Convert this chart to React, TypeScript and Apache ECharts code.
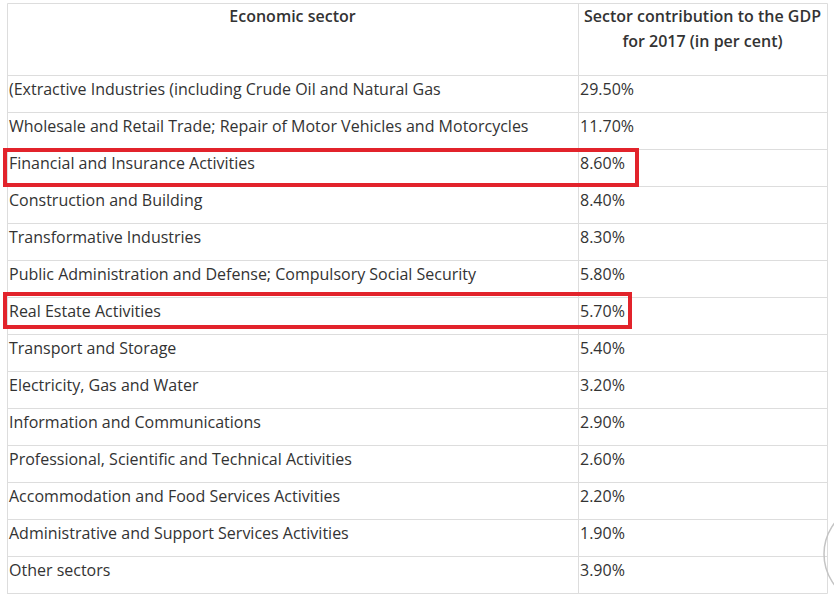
import React, { useEffect, useRef } from "react";
import * as echarts from "echarts";

const headerSector = "Economic sector";
const headerValue = ["Sector contribution to the GDP", "for 2017 (in per cent)"];

const sectors = [
  "(Extractive Industries (including Crude Oil and Natural Gas",
  "Wholesale and Retail Trade; Repair of Motor Vehicles and Motorcycles",
  "Financial and Insurance Activities",
  "Construction and Building",
  "Transformative Industries",
  "Public Administration and Defense; Compulsory Social Security",
  "Real Estate Activities",
  "Transport and Storage",
  "Electricity, Gas and Water",
  "Information and Communications",
  "Professional, Scientific and Technical Activities",
  "Accommodation and Food Services Activities",
  "Administrative and Support Services Activities",
  "Other sectors",
];

const shares = [29.5, 11.7, 8.6, 8.4, 8.3, 5.8, 5.7, 5.4, 3.2, 2.9, 2.6, 2.2, 1.9, 3.9];

const highlighted = ["Financial and Insurance Activities", "Real Estate Activities"];

export default function App() {
  const ref = useRef<HTMLDivElement>(null);

  useEffect(() => {
    if (!ref.current) return;
    const chart = echarts.init(ref.current, null, { renderer: "svg" });
    const FONT = "'Open Sans', 'Noto Sans', sans-serif";
    const TEXT = "#333333";
    const LINE = "#dddddd";
    const RED = "#e2232b";
    const LEFT = 7;
    const RIGHT = 827;
    const DIV = 578;
    const TOP = 3;
    const HEAD = 75;
    const BOTTOM = 593;

    const boxStyle: Record<string, { right: number; dy: number; h: number }> = {
      "Financial and Insurance Activities": { right: 637, dy: 1, h: 35 },
      "Real Estate Activities": { right: 630, dy: -3, h: 33 },
    };

    const option: any = {
      animation: false,
      backgroundColor: "#ffffff",
      grid: { left: LEFT, right: 834 - RIGHT, top: HEAD, bottom: 596 - BOTTOM, containLabel: false },
      xAxis: { type: "value", min: 0, max: 1, show: false },
      yAxis: {
        type: "category",
        data: sectors,
        inverse: true,
        axisLabel: { show: false },
        axisTick: { show: false },
        axisLine: { show: false },
        splitLine: { show: true, lineStyle: { color: LINE, width: 1 } },
      },
      series: [
        {
          type: "custom",
          data: sectors.map((s, i) => [0, i, shares[i]]),
          encode: { x: 0, y: 1 },
          renderItem: (params: any, api: any) => {
            const idx = api.value(1);
            const v = api.value(2);
            const name = sectors[params.dataIndex];
            const c = api.coord([0, idx]);
            const h = api.size([0, 1])[1];
            const top = c[1] - h / 2;
            const children: any[] = [
              {
                type: "text",
                style: {
                  x: LEFT + 2,
                  y: top + 13.5,
                  text: name,
                  fill: TEXT,
                  font: `16px ${FONT}`,
                  textAlign: "left",
                  textVerticalAlign: "middle",
                },
              },
              {
                type: "text",
                style: {
                  x: DIV + 2,
                  y: top + 13.5,
                  text: v.toFixed(2) + "%",
                  fill: TEXT,
                  font: `16px ${FONT}`,
                  textAlign: "left",
                  textVerticalAlign: "middle",
                },
              },
            ];
            if (highlighted.includes(name)) {
              const b = boxStyle[name];
              children.push({
                type: "rect",
                z2: 10,
                shape: { x: 5, y: top + b.dy, width: b.right - 5, height: b.h },
                style: { fill: "none", stroke: RED, lineWidth: 4 },
              });
            }
            return { type: "group", children };
          },
        },
      ],
      graphic: [
        {
          type: "rect",
          z: 1,
          shape: { x: LEFT + 0.5, y: TOP + 0.5, width: RIGHT - LEFT, height: BOTTOM - TOP },
          style: { fill: "none", stroke: LINE, lineWidth: 1 },
        },
        {
          type: "line",
          z: 1,
          shape: { x1: DIV + 0.5, y1: TOP, x2: DIV + 0.5, y2: BOTTOM },
          style: { stroke: LINE, lineWidth: 1 },
        },
        {
          type: "line",
          z: 1,
          shape: { x1: LEFT, y1: HEAD + 0.5, x2: RIGHT, y2: HEAD + 0.5 },
          style: { stroke: LINE, lineWidth: 1 },
        },
        {
          type: "text",
          z: 5,
          style: {
            x: (LEFT + DIV) / 2,
            y: 16,
            text: headerSector,
            fill: TEXT,
            font: `600 16px ${FONT}`,
            textAlign: "center",
            textVerticalAlign: "middle",
          },
        },
        ...headerValue.map((t, i) => ({
          type: "text",
          z: 5,
          style: {
            x: (DIV + RIGHT) / 2,
            y: 16 + i * 25,
            text: t,
            fill: TEXT,
            font: `600 16px ${FONT}`,
            textAlign: "center",
            textVerticalAlign: "middle",
          },
        })),
        {
          type: "circle",
          z: 6,
          shape: { cx: 875, cy: 554, r: 51 },
          style: { fill: "none", stroke: "#c4c4c4", lineWidth: 1.5 },
        },
      ],
    };

    chart.setOption(option);
    return () => chart.dispose();
  }, []);

  return (
    <div
      ref={ref}
      style={{ position: "fixed", left: 0, top: 0, width: 834, height: 596, background: "#fff" }}
    />
  );
}
